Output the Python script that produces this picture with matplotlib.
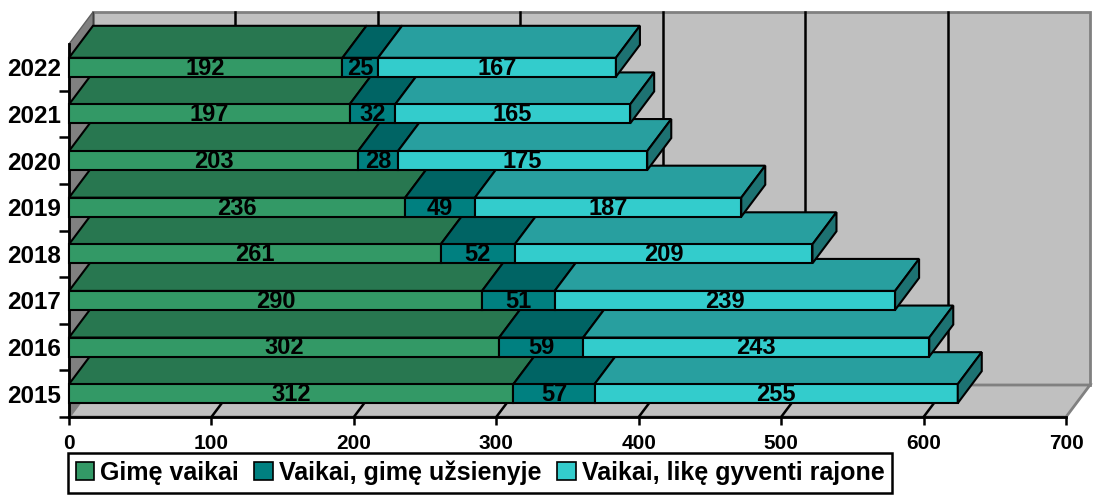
import matplotlib
matplotlib.use("Agg")
import matplotlib.pyplot as plt
from matplotlib.patches import Polygon, Rectangle, Patch
import numpy as np

plt.rcParams['font.family'] = ['Liberation Sans', 'DejaVu Sans']
plt.rcParams['font.weight'] = 'bold'

years = ['2015', '2016', '2017', '2018', '2019', '2020', '2021', '2022']
born = [312, 302, 290, 261, 236, 203, 197, 192]
abroad = [57, 59, 51, 52, 49, 28, 32, 25]
stayed = [255, 243, 239, 209, 187, 175, 165, 167]
series_names = ['Gimę vaikai', 'Vaikai, gimę užsienyje', 'Vaikai, likę gyventi rajone']
x_ticks = [0, 100, 200, 300, 400, 500, 600, 700]

front_cols = ['#339966', '#008080', '#33CCCC']


def shade(c, f):
    r, g, b = matplotlib.colors.to_rgb(c)
    return (r * f, g * f, b * f)


top_cols = [shade(c, 0.78) for c in front_cols]
side_cols = [shade(c, 0.56) for c in front_cols]

W, H = 1094, 495
fig = plt.figure(figsize=(W / 100, H / 100), dpi=100)
ax = fig.add_axes([69 / W, 1 - 417 / H, 997 / W, 373 / H])
xmin, xmax = 0, 700
ymin, ymax = -0.5, 7.5
ax.set_xlim(xmin, xmax)
ax.set_ylim(ymin, ymax)
for s in ax.spines.values():
    s.set_visible(False)

# depth offsets in data units
dx = 24 / 997 * (xmax - xmin)
dy = 32 / 373 * (ymax - ymin)
h = 0.204

wall_edge = '#808080'
# back wall
ax.add_patch(Rectangle((xmin + dx, ymin + dy), xmax - xmin, ymax - ymin,
                       facecolor='#C0C0C0', edgecolor=wall_edge, lw=2, zorder=0, clip_on=False))
# left wall
ax.add_patch(Polygon([(xmin, ymin), (xmin + dx, ymin + dy), (xmin + dx, ymax + dy), (xmin, ymax)],
                     closed=True, facecolor='#808080', edgecolor='#606060', lw=1, zorder=0.5, clip_on=False))
# floor
ax.add_patch(Polygon([(xmin, ymin), (xmax, ymin), (xmax + dx, ymin + dy), (xmin + dx, ymin + dy)],
                     closed=True, facecolor='#C0C0C0', edgecolor=wall_edge, lw=2, zorder=0.5, clip_on=False))
# gridlines
for t in x_ticks[1:-1]:
    ax.plot([t + dx, t + dx], [ymin + dy, ymax + dy], color='black', lw=1.8, zorder=0.6, clip_on=False)
    ax.plot([t, t + dx], [ymin, ymin + dy], color='black', lw=1.8, zorder=0.6, clip_on=False)
ax.plot([xmin + dx, xmin + dx], [ymin + dy, ymax + dy], color='#404040', lw=1, zorder=0.6, clip_on=False)

# axis lines
ax.plot([xmin, xmax], [ymin, ymin], color='black', lw=2, zorder=0.7, clip_on=False)
ax.plot([xmin, xmin], [ymin, ymax], color='black', lw=2, zorder=0.7, clip_on=False)

# bars
data = [born, abroad, stayed]
for i in range(len(years)):
    left = 0
    z = 2 + i
    nseg = len(data)
    for k in range(nseg):
        v = data[k][i]
        right = left + v
        # top face
        ax.add_patch(Polygon([(left, i + h), (right, i + h), (right + dx, i + h + dy), (left + dx, i + h + dy)],
                             closed=True, facecolor=top_cols[k], edgecolor='black', lw=1.5, zorder=z,
                             clip_on=False))
        # front face
        ax.add_patch(Rectangle((left, i - h), v, 2 * h, facecolor=front_cols[k], edgecolor='black',
                               lw=1.5, zorder=z, clip_on=False))
        if k == nseg - 1:
            ax.add_patch(Polygon([(right, i - h), (right, i + h), (right + dx, i + h + dy), (right + dx, i - h + dy)],
                                 closed=True, facecolor=side_cols[k], edgecolor='black', lw=1.5, zorder=z,
                                 clip_on=False))
        ax.text(left + v / 2, i - 0.02, str(v), ha='center', va='center', fontsize=17, fontweight='bold',
                color='black', zorder=z + 0.5)
        left = right

# ticks
ax.set_xticks(x_ticks)
ax.set_xticklabels([str(t) for t in x_ticks], fontsize=15, fontweight='bold')
ax.tick_params(axis='x', direction='out', length=6, width=1.8, pad=6, color='black')
ax.set_yticks(range(len(years)))
ax.set_yticklabels(years, fontsize=17.5, fontweight='bold')
ax.tick_params(axis='y', which='major', length=0, pad=6)
ax.set_yticks(np.arange(ymin, ymax - 0.5, 1.0), minor=True)
ax.tick_params(axis='y', which='minor', direction='out', length=7, width=1.8, color='black')

handles = [Patch(facecolor=c, edgecolor='black', lw=1.2) for c in front_cols]
leg = fig.legend(handles, series_names, loc='upper left', bbox_to_anchor=(68 / W, 1 - 453 / H),
                 ncol=3, prop={'weight': 'bold', 'size': 18}, frameon=True, fancybox=False,
                 framealpha=1, edgecolor='black', borderpad=0.3, handlelength=0.75, handleheight=0.75,
                 handletextpad=0.25, columnspacing=0.6, borderaxespad=0)
leg.get_frame().set_linewidth(1.8)

fig.savefig('out.png', dpi=100)
